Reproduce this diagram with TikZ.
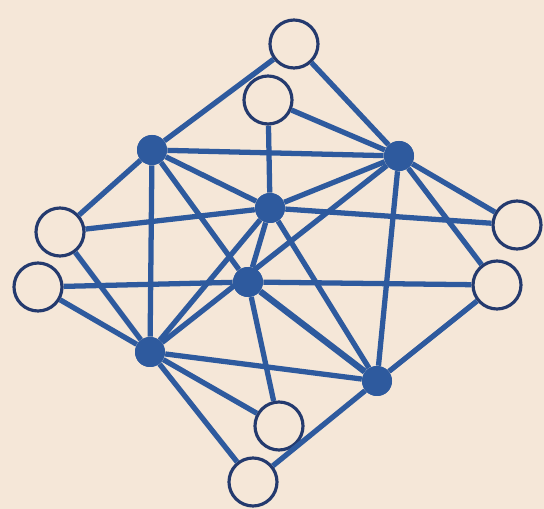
\documentclass[tikz,border=0pt]{standalone}
\definecolor{bgc}{RGB}{245,231,216}
\definecolor{edgec}{RGB}{46,90,158}
\definecolor{ringc}{RGB}{36,58,110}
\begin{document}
\begin{tikzpicture}[x=0.02cm,y=-0.02cm,
  full/.style={circle,fill=edgec,draw=none,inner sep=0pt,minimum size=0.6cm},
  ring/.style={circle,draw=ringc,line width=1.8pt,fill=bgc,inner sep=0pt,minimum size=0.96cm},
  link/.style={draw=edgec,line width=3pt}]
\fill[bgc] (0,0) rectangle (544,509);
\useasboundingbox (0,0) rectangle (544,509);
% filled nodes
\node[full] (A) at (152,150) {};
\node[full] (B) at (399,156) {};
\node[full] (C) at (270,208) {};
\node[full] (D) at (248,282) {};
\node[full] (E) at (150,352) {};
\node[full] (F) at (377,381) {};
% open nodes
\node[ring] (o1) at (294,44) {};
\node[ring] (o2) at (268,100) {};
\node[ring] (o3) at (60,232) {};
\node[ring] (o4) at (38,287) {};
\node[ring] (o5) at (517,225) {};
\node[ring] (o6) at (497,285) {};
\node[ring] (o7) at (279,426) {};
\node[ring] (o8) at (253,482) {};
% edges
\foreach \a/\b in {A/B,A/E,A/C,A/D,A/o1,A/o3,
  B/o1,B/o2,B/C,B/F,B/o5,B/o6,B/E,
  C/o2,C/o3,C/o5,C/D,C/E,C/F,
  D/o4,D/o6,D/o7,
  E/o3,E/o4,E/F,E/o7,E/o8,
  F/o6,F/o8}
  \draw[link] (\a) -- (\b);
\draw[link,line width=3.6pt] (D) -- (F);
% filled nodes on top of the edges
\foreach \p in {(152,150),(399,156),(270,208),(248,282),(150,352),(377,381)}
  \fill[edgec] \p circle (0.3cm);
\end{tikzpicture}
\end{document}
